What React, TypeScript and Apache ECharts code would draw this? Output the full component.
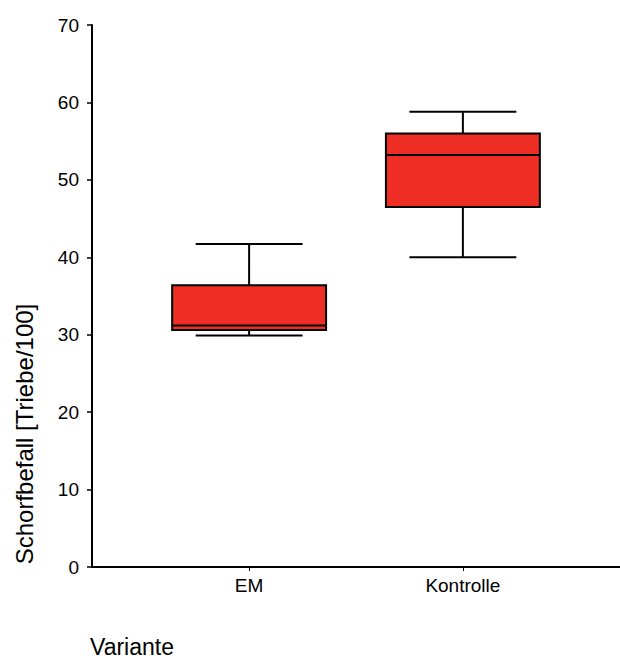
import React, { useEffect, useRef } from "react";
import * as echarts from "echarts";

const categories = ["EM", "Kontrolle"];
const positions = [1, 2];
const lowWhisker = [29.9, 40.0];
const q1 = [30.6, 46.5];
const median = [31.2, 53.2];
const q3 = [36.4, 56.0];
const highWhisker = [41.7, 58.8];
const yTicks = [0, 10, 20, 30, 40, 50, 60, 70];

const FONT = "'Liberation Sans', Arial, sans-serif";
const RED = "#EE2E25";

export default function App() {
  const ref = useRef<HTMLDivElement>(null);
  useEffect(() => {
    if (!ref.current) return;
    const chart = echarts.init(ref.current, null, { renderer: "svg" });
    const data = positions.map((p, i) => [p, lowWhisker[i], q1[i], median[i], q3[i], highWhisker[i]]);
    chart.setOption({
      animation: false,
      backgroundColor: "#fff",
      grid: { left: 92, top: 25, right: -3, bottom: 94, containLabel: false },
      xAxis: [
        {
          type: "value",
          min: 0.265,
          max: 2.735,
          splitLine: { show: false },
          axisLine: { show: true, onZero: false, lineStyle: { color: "#000", width: 2 } },
          axisTick: { show: true, customValues: positions, length: 4, lineStyle: { color: "#000", width: 1 } },
          axisLabel: {
            show: true,
            customValues: positions,
            formatter: (v: number) => categories[positions.indexOf(Math.round(v))] ?? "",
            color: "#000",
            fontFamily: FONT,
            fontSize: 19,
            margin: 9,
          },
        },
        {
          type: "value",
          position: "top",
          min: 0.265,
          max: 2.735,
          splitLine: { show: false },
          axisLine: { show: true, lineStyle: { color: "#000", width: 2 } },
          axisTick: { show: false },
          axisLabel: { show: false },
        },
      ],
      yAxis: {
        type: "value",
        min: 0,
        max: 70,
        interval: 10,
        splitLine: { show: false },
        axisLine: { show: true, lineStyle: { color: "#000", width: 2 } },
        axisTick: { show: true, length: 5, lineStyle: { color: "#000", width: 1.5 } },
        axisLabel: {
          color: "#000",
          fontFamily: FONT,
          fontSize: 19,
          margin: 13,
          formatter: (v: number) => (yTicks.includes(v) ? String(v) : ""),
        },
      },
      series: [
        {
          type: "custom",
          xAxisIndex: 0,
          yAxisIndex: 0,
          data,
          clip: false,
          renderItem: (params: any, api: any) => {
            const x = api.value(0);
            const lo = api.coord([x, api.value(1)]);
            const b1 = api.coord([x, api.value(2)]);
            const md = api.coord([x, api.value(3)]);
            const b3 = api.coord([x, api.value(4)]);
            const hi = api.coord([x, api.value(5)]);
            const boxW = api.size([0.72, 0])[0];
            const capW = api.size([0.5, 0])[0];
            const cx = lo[0];
            const lineStyle = { stroke: "#000", lineWidth: 2 };
            return {
              type: "group",
              children: [
                { type: "line", shape: { x1: cx, y1: b3[1], x2: cx, y2: hi[1] }, style: lineStyle },
                { type: "line", shape: { x1: cx, y1: b1[1], x2: cx, y2: lo[1] }, style: lineStyle },
                { type: "line", shape: { x1: cx - capW / 2, y1: hi[1], x2: cx + capW / 2, y2: hi[1] }, style: lineStyle },
                { type: "line", shape: { x1: cx - capW / 2, y1: lo[1], x2: cx + capW / 2, y2: lo[1] }, style: lineStyle },
                {
                  type: "rect",
                  shape: { x: cx - boxW / 2, y: b3[1], width: boxW, height: b1[1] - b3[1] },
                  style: { fill: RED, stroke: "#000", lineWidth: 2 },
                },
                { type: "line", shape: { x1: cx - boxW / 2, y1: md[1], x2: cx + boxW / 2, y2: md[1] }, style: lineStyle },
              ],
            };
          },
        },
      ],
      graphic: [
        {
          type: "text",
          x: 24,
          y: 434,
          rotation: Math.PI / 2,
          style: {
            text: "Schorfbefall [Triebe/100]",
            fontFamily: FONT,
            fontSize: 24,
            fill: "#000",
            align: "center",
            verticalAlign: "middle",
          },
        },
        {
          type: "text",
          x: 90,
          y: 647,
          style: {
            text: "Variante",
            fontFamily: FONT,
            fontSize: 23,
            fill: "#000",
            align: "left",
            verticalAlign: "middle",
          },
        },
      ],
    });
    return () => chart.dispose();
  }, []);
  return <div ref={ref} style={{ position: "fixed", left: 0, top: 0, width: 620, height: 661 }} />;
}
